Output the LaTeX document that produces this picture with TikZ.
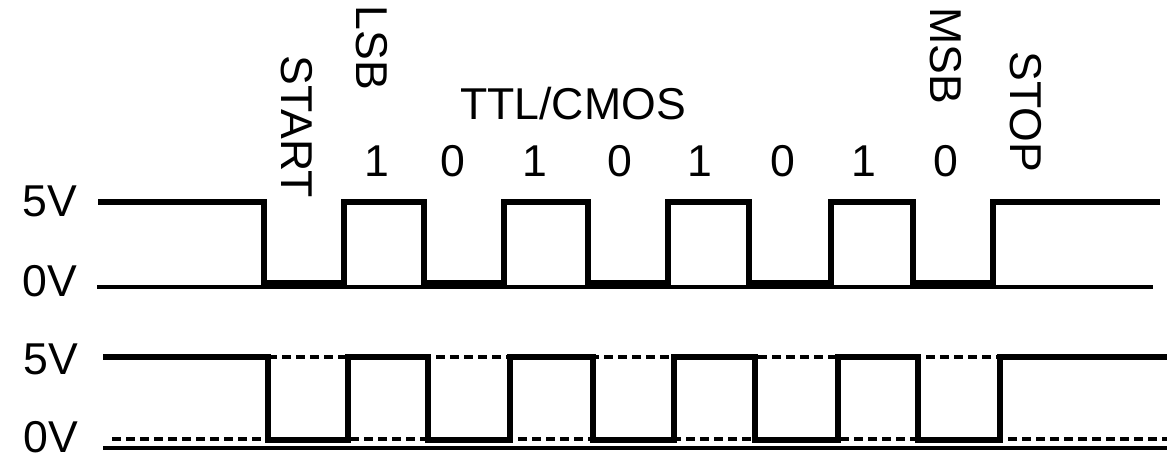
\documentclass[tikz,border=0pt]{standalone}
\usepackage{fontspec}
\setmainfont{Liberation Sans}
\begin{document}
\begin{tikzpicture}[x=0.5pt,y=-0.5pt,
  lbl/.style={inner sep=0pt, outer sep=0pt, font=\fontsize{22.3}{26}\selectfont},
  wave/.style={line width=2.7pt, line join=miter},
  baseline/.style={line width=1.7pt},
  reflevel/.style={line width=1.7pt, dash pattern=on 4.5pt off 2.5pt}]
\useasboundingbox (0,0) rectangle (1172,460);
% level labels
\node[lbl] (v5a) at (50,201) {5V};
\node[lbl] (v0a) at (50,281) {0V};
\node[lbl] (v5b) at (51,359) {5V};
\node[lbl] (v0b) at (51,437) {0V};
% rotated labels
\node[lbl, rotate=-90] (start) at (297,127) {START};
\node[lbl, rotate=-90] (lsb) at (372,48) {LSB};
\node[lbl, rotate=-90] (msb) at (946,56) {MSB};
\node[lbl, rotate=-90] (stop) at (1026,112) {STOP};
\node[lbl] (ttl) at (573,104) {TTL/CMOS};
% bits
\foreach \x/\b [count=\i] in {377/1,453/0,535/1,620/0,700/1,783/0,864/1,946/0}
  \node[lbl] (bit\i) at (\x,161) {\b};
% top waveform
\draw[baseline] (97,287) -- (1153,287);
\draw[wave] (98,202) -| (264,283) -| (344,202) -| (424,283) -| (504,202)
  -| (588,283) -| (668,202) -| (749,283) -| (831,202) -| (913,283)
  -| (993,202) -- (1160,202);
% bottom waveform
\draw[baseline] (103,448) -- (1167,448);
\draw[reflevel] (112,439) -- (1167,439);
\draw[reflevel] (268,357) -- (1000,357);
\draw[wave] (103,357) -| (268,440) -| (348,357) -| (428,440) -| (510,357)
  -| (593,440) -| (674,357) -| (755,440) -| (838,357) -| (918,440)
  -| (1000,357) -- (1167,357);
\end{tikzpicture}
\end{document}
